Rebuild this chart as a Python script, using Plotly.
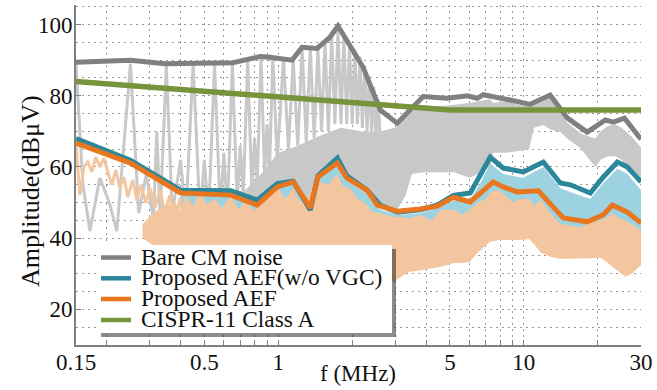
import plotly.graph_objects as go

FONT = "'Liberation Serif', Tinos, 'Times New Roman', Times, 'DejaVu Serif', serif"

# ---------------- data (frequency in MHz, level in dBuV) ----------------
# CISPR-11 Class A limit
cispr_f = [0.15, 5.0, 30.0]
cispr_db = [84.0, 76.0, 76.0]

# Bare CM noise (envelope)
bare_f = [0.15, 0.25, 0.345, 0.653, 0.842, 0.925, 1.137, 1.249, 1.438, 1.625, 1.75,
          1.906, 2.215, 2.6, 3.05, 3.44, 3.89, 4.87, 5.88, 6.46, 6.83, 8.8, 10.6,
          12.8, 15.0, 18.1, 21.5, 23.1, 25.7, 30.0]
bare_db = [89.4, 90.0, 89.0, 89.3, 91.0, 90.8, 90.0, 93.6, 93.3, 96.5, 99.6,
           95.6, 88.0, 76.0, 72.3, 76.0, 79.8, 79.3, 80.0, 79.3, 80.3, 78.8, 77.6,
           80.2, 73.8, 69.8, 73.2, 72.6, 73.7, 67.8]

# Proposed AEF (w/o VGC) (envelope)
novgc_f = [0.15, 0.25, 0.40, 0.64, 0.82, 0.99, 1.15, 1.35, 1.45, 1.74, 1.9, 2.3,
           2.6, 3.05, 3.78, 4.44, 5.16, 6.05, 7.3, 8.24, 9.94, 12.0, 14.07, 15.46,
           18.65, 21.08, 24.04, 26.4, 30.0]
novgc_db = [68.0, 61.9, 53.5, 53.3, 50.7, 55.3, 56.0, 47.9, 57.5, 62.5, 57.5, 53.5,
            49.3, 47.3, 48.0, 49.3, 52.0, 52.7, 62.8, 59.7, 58.6, 61.4, 55.5, 55.0,
            52.7, 57.2, 61.4, 60.0, 55.8]

# Proposed AEF (envelope)
aef_f = [0.15, 0.25, 0.40, 0.64, 0.82, 0.99, 1.15, 1.35, 1.45, 1.74, 1.9, 2.3,
         2.53, 3.05, 3.78, 4.44, 5.16, 6.05, 7.5, 8.24, 9.4, 11.45, 14.48, 18.14,
         21.08, 22.94, 26.4, 30.0]
aef_db = [66.7, 61.1, 52.7, 52.1, 49.3, 54.4, 55.8, 48.5, 57.2, 61.1, 56.9, 53.5,
          49.3, 47.6, 48.2, 49.0, 51.5, 50.2, 55.8, 54.4, 53.0, 53.3, 45.7, 44.6,
          46.6, 49.3, 47.3, 44.3]

# Bare CM noise raw spectrum: harmonic comb below 2.6 MHz
comb_f = [0.15, 0.16, 0.171, 0.1875, 0.205, 0.22, 0.25, 0.27, 0.29, 0.31, 0.32, 0.33,
          0.35, 0.37, 0.40, 0.42, 0.45, 0.48, 0.50, 0.52, 0.55, 0.58, 0.60, 0.62,
          0.65, 0.68, 0.70, 0.72, 0.75, 0.78, 0.80, 0.82, 0.85, 0.88, 0.90, 0.92,
          0.95, 0.99, 1.05, 1.10, 1.15, 1.20, 1.25, 1.30, 1.35, 1.40, 1.45, 1.50,
          1.55, 1.60, 1.65, 1.70, 1.75, 1.80, 1.85, 1.90, 1.95, 2.00, 2.05, 2.10,
          2.15, 2.20, 2.25, 2.30, 2.35, 2.40, 2.45, 2.50, 2.55, 2.60]
comb_db = [89.0, 55.0, 42.0, 57.0, 50.0, 42.0, 89.0, 47.0, 58.0, 45.0, 70.0, 46.0,
           88.5, 47.0, 62.0, 46.0, 89.0, 46.0, 62.0, 46.0, 89.0, 47.0, 64.0, 47.0,
           89.0, 50.0, 66.0, 52.0, 89.5, 54.0, 68.0, 55.0, 90.5, 58.0, 72.0, 58.0,
           90.8, 62.0, 90.5, 65.0, 90.0, 66.0, 93.5, 67.0, 93.5, 68.0, 93.5, 70.0,
           95.0, 70.0, 97.0, 72.0, 99.0, 72.0, 97.0, 72.0, 94.5, 72.0, 93.0, 72.0,
           91.0, 71.0, 88.5, 70.0, 85.5, 70.0, 82.5, 68.0, 79.0, 68.0]

# Bare CM noise raw spectrum: dense band (upper / lower edges)
gband_f = [0.70, 0.85, 1.0, 1.2, 1.5, 1.8, 2.2, 2.6, 2.8, 3.05, 3.3, 3.5, 3.89, 4.4,
           5.2, 6.0, 6.5, 7.3, 7.5, 8.5, 9.5, 10.5, 11.0, 12.0, 12.8, 14.1, 15.0,
           17.0, 18.5, 19.6, 20.5, 22.0, 23.5, 25.0, 27.5, 30.0]
gband_hi = [52.0, 58.0, 64.0, 66.0, 69.0, 71.0, 70.0, 70.0, 70.5, 71.3, 74.0, 75.5,
            77.5, 77.0, 77.5, 78.0, 78.5, 79.0, 78.0, 78.5, 77.5, 77.0, 77.5, 78.5,
            79.5, 75.0, 72.5, 69.5, 68.5, 68.0, 70.0, 71.5, 72.0, 71.0, 68.5, 65.5]
gband_lo = [50.0, 50.0, 50.0, 50.0, 50.0, 52.0, 52.0, 50.0, 49.0, 48.0, 52.0, 58.0,
            58.5, 58.5, 58.5, 57.0, 58.0, 60.0, 64.0, 64.0, 64.5, 65.0, 71.0, 71.8,
            70.5, 69.8, 68.0, 65.3, 62.0, 60.0, 62.0, 63.0, 63.0, 62.0, 58.0, 56.0]

# Proposed AEF (w/o VGC) raw spectrum band
bband_f = [0.40, 0.64, 0.82, 1.0, 1.15, 1.35, 1.45, 1.74, 1.9, 2.3, 2.6, 2.9, 3.05,
           3.78, 4.44, 5.16, 6.05, 6.6, 7.3, 8.24, 9.94, 12.0, 14.07, 15.46, 18.65,
           21.08, 24.04, 26.4, 30.0]
bband_hi = [53.0, 52.5, 51.0, 55.0, 55.0, 50.0, 57.0, 60.0, 56.0, 52.0, 48.0, 47.0,
            46.5, 47.0, 48.5, 50.5, 51.0, 55.0, 61.0, 58.0, 57.0, 60.0, 54.0, 53.0,
            51.0, 55.5, 59.5, 58.0, 53.5]
bband_lo = [42.0, 42.0, 40.0, 40.0, 40.0, 40.0, 40.0, 40.0, 40.0, 40.0, 40.0, 40.0,
            40.0, 40.0, 40.0, 40.0, 40.0, 40.0, 41.0, 41.0, 41.0, 40.0, 40.0, 40.0,
            40.0, 40.0, 40.0, 40.0, 40.0]

# Proposed AEF raw spectrum: jagged part at low frequency
praw_f = [0.15, 0.1526, 0.1555, 0.1614, 0.1676, 0.174, 0.1806, 0.1875, 0.1947,
          0.2021, 0.2099, 0.2179, 0.2262, 0.2349, 0.2439, 0.2556, 0.2654, 0.2756,
          0.2889, 0.2999, 0.3144, 0.3295, 0.3452, 0.3618, 0.3793, 0.3975, 0.4166]
praw_db = [66.5, 58.3, 52.1, 60.0, 61.4, 58.6, 62.8, 60.0, 62.5, 58.6, 55.0, 59.2,
           54.1, 57.2, 51.6, 56.4, 50.7, 55.0, 49.9, 54.1, 48.5, 53.5, 47.1, 52.1,
           44.3, 51.3, 42.3]

# Proposed AEF raw spectrum band (jagged top edge)
oband_f = [0.28, 0.31, 0.34, 0.38, 0.40, 0.42, 0.45, 0.48, 0.51, 0.55, 0.59, 0.64,
           0.69, 0.74, 0.79, 0.84, 0.90, 1.0, 1.07, 1.15, 1.21, 1.28, 1.36, 1.45,
           1.6, 1.73, 1.84, 1.96, 2.1, 2.25, 2.4, 2.6, 2.9, 2.97, 3.05, 3.4, 3.8,
           4.2, 4.6, 5.2, 5.6, 6.0, 6.5, 7.0, 7.3, 7.9, 8.4, 9.0, 9.6, 10.5, 11.1,
           11.7, 12.8, 14.1, 15.5, 17.0, 18.5, 20.5, 22.0, 22.9, 24.5, 25.9, 27.5,
           30.0]
oband_hi = [44.0, 47.0, 49.0, 50.0, 47.5, 52.0, 49.0, 53.0, 49.5, 51.0, 48.5, 52.0,
            48.0, 51.0, 47.5, 50.0, 51.0, 54.0, 51.0, 54.0, 50.5, 50.0, 53.0, 56.0,
            55.0, 58.0, 54.5, 54.0, 51.0, 50.0, 47.5, 47.0, 46.0, 46.0, 46.0, 45.5,
            46.5, 45.0, 48.0, 48.0, 46.5, 48.0, 50.0, 51.0, 53.0, 53.5, 52.0, 50.0,
            51.0, 51.0, 49.0, 51.0, 47.0, 44.0, 43.5, 43.0, 44.5, 45.0, 46.0, 47.0,
            45.5, 45.0, 44.0, 42.0]
oband_lo = [40.0, 38.0, 38.0, 38.0, 38.0, 38.0, 38.0, 38.0, 38.0, 38.0, 38.0, 38.0,
            38.0, 38.0, 38.0, 30.0, 30.0, 30.0, 30.0, 30.0, 30.0, 30.0, 30.0, 30.0,
            30.0, 30.0, 30.0, 30.0, 30.0, 30.0, 30.0, 30.0, 28.0, 27.5, 28.5, 30.5,
            31.0, 31.5, 32.0, 33.0, 33.0, 33.3, 36.0, 38.0, 39.0, 39.5, 39.5, 39.5,
            39.5, 39.8, 38.0, 36.0, 34.8, 34.2, 34.2, 34.3, 34.4, 34.5, 33.0, 32.0,
            30.5, 29.2, 30.0, 32.5]

# x-axis ticks (grid at every 1-9 step, labels only at selected values)
xtick_vals = [0.15, 0.2, 0.3, 0.4, 0.5, 0.6, 0.7, 0.8, 0.9, 1, 2, 3, 4, 5, 6, 7, 8,
              9, 10, 20, 30]
xtick_text = ["0.15", "", "", "", "0.5", "", "", "", "", "1", "", "", "", "5", "",
              "", "", "", "10", "", "30"]

legend_names = ["Bare CM noise", "Proposed AEF(w/o VGC)", "Proposed AEF",
                "CISPR-11 Class A"]

# ---------------- styling ----------------
C_GRAY = "#808080"
C_TEAL = "#2C879B"
C_ORANGE = "#E8761E"
C_GREEN = "#77933C"
C_GRAY_RAW = "#C8C8C8"
C_BLUE_RAW = "#9DD3E0"
C_ORANGE_RAW = "#F4C6A0"

W, H = 657, 390
ML, MR, MT, MB = 76, 16, 5, 45
PW, PH = W - ML - MR, H - MT - MB


def px_x(x):
    return (x - ML) / PW


def px_y(y):
    return (H - MB - y) / PH


def band(f, hi, lo, color):
    return go.Scatter(x=list(f) + list(f)[::-1], y=list(hi) + list(lo)[::-1],
                      fill="toself", fillcolor=color, mode="none",
                      showlegend=False, hoverinfo="skip")


def line(f, db, color, width):
    return go.Scatter(x=f, y=db, mode="lines", showlegend=False, hoverinfo="skip",
                      line=dict(color=color, width=width, shape="linear"))


fig = go.Figure()

# raw spectra
fig.add_trace(band(gband_f, gband_hi, gband_lo, C_GRAY_RAW))
fig.add_trace(line(comb_f, comb_db, C_GRAY_RAW, 3))
fig.add_trace(band(bband_f, bband_hi, bband_lo, C_BLUE_RAW))
fig.add_trace(band(oband_f, oband_hi, oband_lo, C_ORANGE_RAW))
fig.add_trace(line(praw_f, praw_db, C_ORANGE_RAW, 3))

# envelopes and limit
fig.add_trace(line(bare_f, bare_db, C_GRAY, 5))
fig.add_trace(line(novgc_f, novgc_db, C_TEAL, 5))
fig.add_trace(line(aef_f, aef_db, C_ORANGE, 5))
fig.add_trace(line(cispr_f, cispr_db, C_GREEN, 5.5))

grid = dict(showgrid=True, gridcolor="#9a9a9a", gridwidth=1.2, griddash="2px,4px")
tickfont = dict(family=FONT, size=23, color="#111")

fig.update_xaxes(type="log", range=[-0.82391, 1.47712], **grid,
                 tickmode="array", tickvals=xtick_vals, ticktext=xtick_text,
                 ticks="inside", ticklen=5, tickwidth=1.3, tickcolor=C_GRAY,
                 showline=True, linecolor=C_GRAY, linewidth=2, zeroline=False,
                 tickfont=tickfont, ticklabelstandoff=-5)
fig.update_yaxes(range=[10, 105.5], tickmode="array", tickvals=[20, 40, 60, 80, 100],
                 **grid, minor=dict(dtick=5, tick0=0, showgrid=True,
                                    gridcolor="#9a9a9a", gridwidth=1.2,
                                    griddash="2px,4px", ticklen=0),
                 ticks="inside", ticklen=5, tickwidth=1.3, tickcolor=C_GRAY,
                 showline=True, linecolor=C_GRAY, linewidth=2, zeroline=False,
                 tickfont=tickfont, ticklabelstandoff=-3)

# legend box with drop shadow
lx0, ly0, lx1, ly1 = 97, 245, 392, 333
shapes = [
    dict(type="rect", xref="paper", yref="paper", x0=px_x(lx0 + 4), x1=px_x(lx1 + 4),
         y0=px_y(ly1 + 4), y1=px_y(ly0 + 4), fillcolor="rgba(0,0,0,0.45)",
         line=dict(width=0), layer="above"),
    dict(type="rect", xref="paper", yref="paper", x0=px_x(lx0), x1=px_x(lx1),
         y0=px_y(ly1), y1=px_y(ly0), fillcolor="white", line=dict(width=0),
         layer="above"),
]
rows = [257.5, 278.3, 299.0, 320.0]
colors = [C_GRAY, C_TEAL, C_ORANGE, C_GREEN]
annotations = []
for name, col, ry in zip(legend_names, colors, rows):
    shapes.append(dict(type="line", xref="paper", yref="paper", x0=px_x(101),
                       x1=px_x(131), y0=px_y(ry), y1=px_y(ry),
                       line=dict(color=col, width=4.5), layer="above"))
    annotations.append(dict(text=name, xref="paper", yref="paper", x=px_x(139),
                            y=px_y(ry - 1), xanchor="left", yanchor="middle",
                            showarrow=False,
                            font=dict(family=FONT, size=23.4, color="#111")))

# axis titles
annotations.append(dict(text="f (MHz)", xref="paper", yref="paper", x=px_x(358),
                        y=px_y(373), xanchor="center", yanchor="middle",
                        showarrow=False, font=dict(family=FONT, size=23, color="#111")))
annotations.append(dict(text="Amplitude(dBμV)", xref="paper", yref="paper",
                        x=px_x(30), y=px_y(191), xanchor="center", yanchor="middle",
                        textangle=-90, showarrow=False,
                        font=dict(family=FONT, size=26, color="#111")))

fig.update_layout(width=W, height=H, margin=dict(l=ML, r=MR, t=MT, b=MB),
                  plot_bgcolor="white", paper_bgcolor="white", showlegend=False,
                  shapes=shapes, annotations=annotations,
                  font=dict(family=FONT, size=23, color="#111"))

fig.write_html("out.html")
